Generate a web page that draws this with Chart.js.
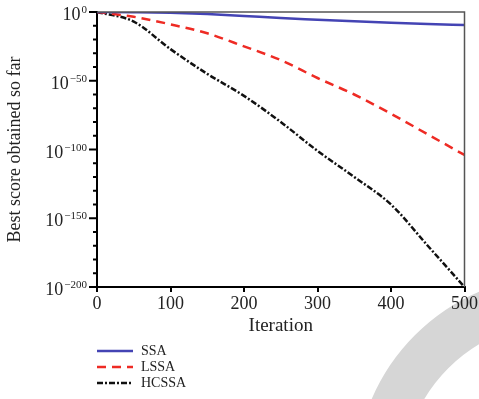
<!DOCTYPE html>
<html>
<head>
<meta charset="utf-8">
<script src="https://cdn.jsdelivr.net/npm/chart.js@4.4.1/dist/chart.umd.min.js"></script>
<style>
  html, body { margin: 0; padding: 0; background: #fff; }
  #wrap { position: relative; width: 479px; height: 399px; overflow: hidden; }
  #mark { position: absolute; left: 355px; top: 275px; width: 316px; height: 316px;
          border-radius: 50%; border: 47px solid #d6d6d6; }
  #myChart { position: absolute; left: 0; top: 0; }
  #legend { position: absolute; left: 97px; top: 343px; font-family: "Liberation Serif", serif;
            font-size: 14px; color: #222; }
  #legend div { height: 16px; line-height: 16px; display: flex; align-items: center; }
  #legend svg { margin-right: 8px; }
</style>
</head>
<body>
<div id="wrap">
  <div id="mark"></div>
  <canvas id="myChart" width="479" height="399"></canvas>
  <div id="legend"></div>
</div>
<script>
// iterations and log10 of the best score per algorithm
const iterations = [0, 50, 100, 150, 200, 250, 300, 350, 400, 450, 500];
const ssaLog10 = [0, -0.2, -0.6, -1.5, -2.9, -4.4, -5.6, -6.8, -7.9, -8.8, -9.5];
const lssaLog10 = [0, -3.5, -9, -15.5, -25, -35, -48, -60, -74, -89, -104];
const hcssaLog10 = [0, -7, -27, -45, -61, -80, -101, -120, -140, -170, -200];
const seriesNames = ['SSA', 'LSSA', 'HCSSA'];
const xTicks = [0, 100, 200, 300, 400, 500];
const yMajorTicks = [0, -50, -100, -150, -200];

const serif = '"Liberation Serif", "DejaVu Serif", serif';

function toPoints(vals) {
    return iterations.map((it, i) => ({ x: it, y: vals[i] }));
}

// y ticks like 10^-50 drawn by hand so the exponent can be raised
const yTickPlugin = {
    id: 'yTicks',
    afterDraw(chart) {
        const ctx = chart.ctx;
        const y = chart.scales.y;
        const area = chart.chartArea;
        ctx.save();
        // frame on top and right
        ctx.strokeStyle = '#555';
        ctx.lineWidth = 1.5;
        ctx.beginPath();
        ctx.moveTo(area.left, area.top);
        ctx.lineTo(area.right, area.top);
        ctx.lineTo(area.right, area.bottom);
        ctx.stroke();

        ctx.strokeStyle = '#000';
        ctx.lineWidth = 2;
        for (let v = 0; v >= -200; v -= 10) {
            const py = y.getPixelForValue(v);
            const major = yMajorTicks.includes(v);
            const len = major ? 8 : 4;
            ctx.beginPath();
            ctx.moveTo(area.left - len, py);
            ctx.lineTo(area.left, py);
            ctx.stroke();
        }
        ctx.fillStyle = '#222';
        ctx.textBaseline = 'alphabetic';
        yMajorTicks.forEach(v => {
            const py = y.getPixelForValue(v);
            const exp = v === 0 ? '0' : '\u2212' + Math.abs(v);
            ctx.font = '11px ' + serif;
            const ew = ctx.measureText(exp).width;
            const right = area.left - 10;
            ctx.textAlign = 'right';
            ctx.fillText(exp, right, py + 1);
            ctx.font = '18px ' + serif;
            ctx.fillText('10', right - ew - 1, py + 8);
        });
        ctx.restore();
    }
};

const ctx = document.getElementById('myChart');
const chart = new Chart(ctx, {
    type: 'line',
    data: {
        datasets: [
            {
                label: seriesNames[0],
                data: toPoints(ssaLog10),
                borderColor: '#4444b4',
                borderWidth: 2.5
            },
            {
                label: seriesNames[1],
                data: toPoints(lssaLog10),
                borderColor: '#ee2b24',
                borderWidth: 2.5,
                borderDash: [9, 6]
            },
            {
                label: seriesNames[2],
                data: toPoints(hcssaLog10),
                borderColor: '#111',
                borderWidth: 2.5,
                borderDash: [6, 2, 2, 2]
            }
        ]
    },
    options: {
        responsive: false,
        animation: false,
        layout: { padding: { top: 12, right: 13, left: 0, bottom: 62 } },
        elements: {
            point: { radius: 0 },
            line: { cubicInterpolationMode: 'monotone', fill: false }
        },
        plugins: {
            legend: { display: false },
            tooltip: { enabled: false }
        },
        scales: {
            x: {
                type: 'linear',
                min: 0,
                max: 500,
                afterFit(scale) { scale.height = 50; },
                afterBuildTicks(scale) { scale.ticks = xTicks.map(v => ({ value: v })); },
                border: { color: '#000', width: 2 },
                grid: { drawOnChartArea: false, drawTicks: true, tickLength: 5, color: '#000', lineWidth: 2 },
                ticks: { color: '#222', font: { family: serif, size: 18 }, padding: 1, maxRotation: 0 },
                title: { display: true, text: 'Iteration', color: '#222', font: { family: serif, size: 19 }, padding: { top: 0, bottom: 0 } }
            },
            y: {
                type: 'linear',
                min: -200,
                max: 0,
                afterFit(scale) { scale.width = 97; },
                border: { color: '#000', width: 2 },
                grid: { display: false },
                ticks: { display: false },
                title: { display: true, text: 'Best score obtained so far', color: '#222', font: { family: serif, size: 18 }, padding: { top: 4, bottom: 0 } }
            }
        }
    },
    plugins: [yTickPlugin]
});

// legend under the chart
const legendDiv = document.getElementById('legend');
chart.data.datasets.forEach(ds => {
    const row = document.createElement('div');
    const dash = ds.borderDash ? ds.borderDash.join(',') : 'none';
    row.innerHTML = `<svg width="36" height="6"><line x1="0" y1="3" x2="36" y2="3" stroke="${ds.borderColor}" stroke-width="2.5" stroke-dasharray="${dash}"/></svg><span>${ds.label}</span>`;
    legendDiv.appendChild(row);
});
</script>
</body>
</html>
